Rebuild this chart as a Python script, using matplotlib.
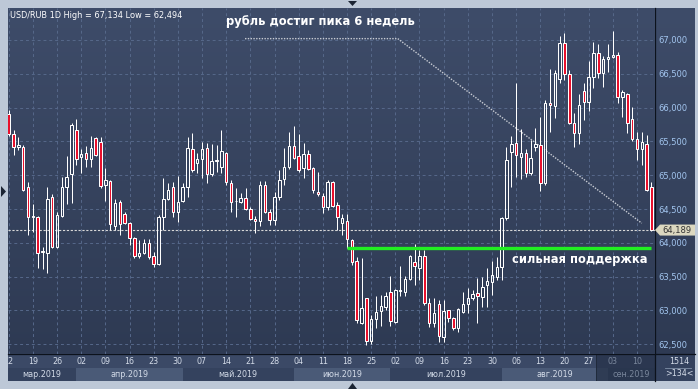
import numpy as np
import pandas as pd
import matplotlib
matplotlib.use('Agg')
import matplotlib.pyplot as plt
from matplotlib.colors import LinearSegmentedColormap
from matplotlib.patches import Polygon, Rectangle
from matplotlib.lines import Line2D

W, H = 698, 389

# trading days shown on the chart
dates = pd.bdate_range('2019-03-12', '2019-09-13')

# USD/RUB daily candles (rub * 1000)
opens = [65906, 65610, 65420, 65423, 64831, 64380, 64378, 63870, 63855, 64673,
         63944, 64402, 64831, 65018, 65669, 65265, 65324, 65235, 65546, 65487,
         64851, 64920, 64249, 64599, 64422, 64289, 64067, 63806, 63855, 63993,
         63806, 63687, 64388, 64654, 64831, 64452, 64619, 64821, 65383, 65186,
         65235, 65398, 65013, 65215, 65117, 65324, 64880, 64614, 64609, 64658,
         64505, 64348, 64323, 64851, 64451, 64333, 64683, 64949, 65117, 65432,
         65284, 65102, 65309, 65102, 64752, 64693, 64525, 64900, 64555, 64298,
         64323, 64042, 63731, 62809, 63179, 62553, 62869, 62997, 63056, 63273,
         62834, 63288, 63278, 63460, 63722, 63623, 63805, 63105, 62809, 63090,
         62602, 63007, 62883, 62745, 62982, 63090, 63179, 63253, 63204, 63376,
         63416, 63500, 63648, 64362, 65348, 65472, 65275, 65324, 65038, 65422,
         65447, 64890, 66063, 66024, 66418, 66951, 66492, 65777, 65629, 66245,
         66078, 66448, 66803, 66507, 66714, 66744, 66778, 66152, 66201, 65832,
         65536, 65383, 65462, 64821]
highs = [65965, 65669, 65560, 65450, 64905, 64575, 64397, 63944, 64821, 64718,
         64461, 64979, 65285, 65768, 65827, 65383, 65433, 65580, 65570, 65561,
         65102, 64930, 64644, 64634, 64461, 64313, 64092, 64042, 64052, 64052,
         63870, 64412, 64964, 64890, 64905, 64989, 64890, 65570, 65620, 65324,
         65496, 65472, 65462, 65447, 65669, 65348, 64929, 64806, 64732, 64806,
         64535, 64397, 64910, 64910, 64505, 64757, 65077, 65398, 65644, 65728,
         65610, 65472, 65373, 65126, 65053, 64732, 64929, 64910, 64604, 64427,
         64427, 64050, 63796, 63771, 63185, 62933, 63214, 63229, 63278, 63510,
         63312, 63657, 63510, 63820, 63983, 63894, 63894, 63179, 63179, 63155,
         63155, 63010, 62908, 63031, 63278, 63327, 63302, 63475, 63490, 63623,
         63731, 63796, 64387, 65422, 65580, 66359, 65679, 65383, 65521, 65694,
         65866, 66113, 66566, 66556, 67059, 67099, 66556, 65915, 66201, 66359,
         66694, 66975, 66941, 66763, 66941, 67134, 66827, 66260, 66210, 66004,
         65644, 65644, 65600, 64905]
lows = [65581, 65300, 65380, 64772, 64116, 64166, 63623, 63609, 63559, 63919,
        63919, 64388, 64575, 64585, 65152, 65028, 65127, 65127, 65285, 64807,
        64624, 64190, 64190, 64116, 64279, 63968, 63771, 63771, 63835, 63757,
        63648, 63673, 64190, 64634, 64388, 64313, 64609, 64683, 65053, 65038,
        64954, 64890, 64993, 65053, 65038, 64855, 64461, 64377, 64584, 64486,
        64338, 64141, 64249, 64436, 64269, 64264, 64634, 64856, 65097, 65245,
        65053, 64954, 65077, 64732, 64693, 64446, 64486, 64535, 64190, 64121,
        63919, 63672, 62819, 62800, 62494, 62500, 62736, 62770, 63007, 62770,
        62819, 63214, 63214, 63450, 63376, 63450, 63081, 62750, 62750, 62538,
        62538, 62834, 62711, 62686, 62967, 62967, 63155, 62819, 63056, 63056,
        63229, 63450, 63450, 64338, 64831, 64979, 64939, 64979, 65003, 65363,
        64772, 64856, 65644, 65841, 66359, 66408, 65758, 65422, 65462, 65817,
        65955, 66285, 66433, 66310, 66532, 66729, 66063, 65866, 65620, 65511,
        65225, 65151, 64760, 64180]
closes = [65610, 65423, 65440, 64782, 64388, 64395, 63845, 63885, 64644, 63944,
          64407, 64831, 64969, 65743, 65235, 65314, 65235, 65398, 65299, 64846,
          64930, 64279, 64594, 64279, 64289, 64067, 63806, 63855, 64003, 63796,
          63687, 64388, 64654, 64777, 64452, 64599, 64821, 65398, 65078, 65235,
          65383, 65013, 65210, 65225, 65353, 64900, 64609, 64620, 64658, 64505,
          64357, 64318, 64851, 64451, 64333, 64683, 64925, 65117, 65432, 65260,
          65072, 65309, 65087, 64776, 64722, 64525, 64900, 64545, 64387, 64362,
          64052, 63722, 62859, 63031, 62553, 62869, 62977, 63066, 63214, 62849,
          63302, 63302, 63460, 63805, 63662, 63805, 63105, 62809, 62957, 62627,
          62997, 62883, 62745, 63017, 63095, 63179, 63243, 63214, 63342, 63436,
          63524, 63648, 64362, 65225, 65457, 65294, 65324, 65038, 65250, 65457,
          64890, 66063, 66034, 66507, 66951, 66492, 65777, 65629, 66039, 66078,
          66448, 66803, 66507, 66714, 66753, 66778, 66152, 66236, 65767, 65531,
          65383, 65487, 64782, 64189]

month_names = {3: 'мар', 4: 'апр', 5: 'май', 6: 'июн', 7: 'июл', 8: 'авг', 9: 'сен'}
price_ticks = [62.5, 63.0, 63.5, 64.0, 64.5, 65.0, 65.5, 66.0, 66.5, 67.0]
support = 63.92
trend_x = [48.9, 80.5, 131.0]
trend_y = [67.02, 67.02, 64.29]
note_top = 'рубль достиг пика 6 недель'
note_support = 'сильная поддержка'

o = np.array(opens) / 1000
h = np.array(highs) / 1000
l = np.array(lows) / 1000
c = np.array(closes) / 1000
x = np.arange(len(dates))


def fx(px):
    return px / W


def fy(py):
    return 1 - py / H


def rub(v):
    return f'{v:.3f}'.replace('.', ',')


frame = '#bdc8d7'
red = '#e8102c'
grid_col = '#56688a'
bg = LinearSegmentedColormap.from_list('bg', ['#2e3a53', '#3e4c69'])
grad = np.linspace(0, 1, 256).reshape(-1, 1)

fig = plt.figure(figsize=(W / 100, H / 100), dpi=100, facecolor=frame)

# right price panel background
axr = fig.add_axes([fx(655), fy(354), (695 - 655) / W, (354 - 8) / H])
axr.imshow(grad, extent=[0, 1, 0, 1], cmap=bg, aspect='auto', origin='lower')
axr.axis('off')

ax = fig.add_axes([fx(8), fy(354), (655 - 8) / W, (354 - 8) / H])
ax.set_zorder(3)
ax.imshow(grad, extent=[0, 1, 0, 1], transform=ax.transAxes, cmap=bg,
          aspect='auto', origin='lower', zorder=0)
ax.set_xlim(-0.145, 133.73)
ax.set_ylim(62.356, 67.473)

tues = x[dates.weekday == 1]
ax.set_xticks(tues)
ax.set_yticks(price_ticks)
ax.set_yticklabels([rub(v) for v in price_ticks])
ax.yaxis.tick_right()
ax.tick_params(axis='x', length=0, labelbottom=False)
ax.tick_params(axis='y', length=0, pad=2.5, labelsize=6, labelcolor='#a3c6f0')
ax.grid(True, color=grid_col, ls=(0, (3, 3)), lw=0.7)
ax.set_axisbelow(True)
for s in ax.spines.values():
    s.set_visible(False)

# candles
lo_b = np.minimum(o, c)
hi_b = np.maximum(o, c)
up = c >= o
ax.vlines(x, l, lo_b, color='white', lw=0.72, zorder=3)
ax.vlines(x, hi_b, h, color='white', lw=0.72, zorder=3)
ax.bar(x[up], (hi_b - lo_b)[up], bottom=lo_b[up], width=0.5,
       facecolor='none', edgecolor='white', lw=0.72, zorder=4)
ax.bar(x[~up], (hi_b - lo_b)[~up], bottom=lo_b[~up], width=0.5,
       facecolor=red, edgecolor='white', lw=0.72, zorder=4)

# last price, support and trend
ax.axhline(c[-1], color='#d8d8d8', lw=0.8, ls=(0, (2, 1.5)), zorder=2)
ax.plot([69.9, 132.8], [support, support], color='#22ee22', lw=2.4,
        solid_capstyle='butt', zorder=5)
ax.plot(trend_x, trend_y, color='#c8ccd4', lw=1.0, ls=(0, (1, 1)), zorder=2)

fig.text(fx(226), fy(22), note_top, color='white', fontsize=8.3,
         fontweight='bold', ha='left', va='center')
fig.text(fx(512), fy(259), note_support, color='white', fontsize=8.3,
         fontweight='bold', ha='left', va='center', zorder=10)
fig.text(fx(10), fy(15), f'USD/RUB 1D High = {rub(h.max())} Low = {rub(l.min())}',
         color='white', fontsize=5.9, ha='left', va='center', zorder=10)

# last price tag
py = 8 + (67.473 - c[-1]) / (67.473 - 62.356) * 346
tag = [(655, py), (660, py - 5.5), (695, py - 5.5), (695, py + 5.5), (660, py + 5.5)]
fig.add_artist(Polygon([(fx(a), fy(b)) for a, b in tag], closed=True,
                       transform=fig.transFigure, fc='#dcd8c0', ec='none', zorder=5))
fig.text(fx(677), fy(py), rub(c[-1]), color='#333333', fontsize=6,
         ha='center', va='center', zorder=6)

# date panel
axd = fig.add_axes([fx(8), fy(381), (655 - 8) / W, (381 - 354) / H])
axd.set_xlim(ax.get_xlim())
axd.set_ylim(0, 1)
axd.axis('off')
axd.add_patch(Rectangle((-1, 0.48), 140, 0.52, fc='#3b4966', ec='none'))
months = dates.month
first = [0] + [i for i in range(1, len(dates)) if months[i] != months[i - 1]]
edges = first + [ax.get_xlim()[1]]
for k, i0 in enumerate(first):
    left = ax.get_xlim()[0] if k == 0 else i0
    right = edges[k + 1]
    col = '#34425e' if k % 2 == 0 else '#4a5a77'
    axd.add_patch(Rectangle((left, 0), right - left, 0.48, fc=col, ec='none'))
    grey = i0 >= 121.5
    axd.text((left + right) / 2, 0.25, f'{month_names[months[i0]]}.2019',
             ha='center', va='center', fontsize=5.8,
             color='#7a879c' if grey else '#d3dbe8')
axd.add_patch(Rectangle((121.5, 0), 20, 1, fc='#263249', ec='none', alpha=0.75))
axd.axvline(121.5, color='#1e2838', lw=0.6)
for i in tues:
    axd.text(i, 0.72, f'{dates[i].day:02d}', ha='center', va='center',
             fontsize=5.8, color='#7a879c' if i > 121.5 else '#d3dbe8',
             clip_on=True)

# corner cell
axc = fig.add_axes([fx(655), fy(381), (695 - 655) / W, (381 - 354) / H])
axc.set_xlim(0, 1)
axc.set_ylim(0, 1)
axc.axis('off')
axc.add_patch(Rectangle((0, 0), 1, 1, fc='#34425e', ec='none'))
axc.plot([0.25, 0.9], [0.5, 0.5], color='#8090a8', lw=0.6)
axc.text(0.6, 0.72, '1514', ha='center', va='center', fontsize=5.8, color='#d3dbe8')
axc.text(0.6, 0.26, '>134<', ha='center', va='center', fontsize=5.8, color='#d3dbe8')

# separators and frame markers
fig.add_artist(Line2D([fx(655), fx(655)], [fy(8), fy(381)], color='#0c121c', lw=0.9))
fig.add_artist(Line2D([fx(8), fx(695)], [fy(354), fy(354)], color='#0c121c', lw=0.9))
for tri in ([(1, 186), (6, 191.5), (1, 197)],
            [(348, 1), (357, 1), (352.5, 6)],
            [(348, 389), (357, 389), (352.5, 383)]):
    fig.add_artist(Polygon([(fx(a), fy(b)) for a, b in tri], closed=True,
                           transform=fig.transFigure, fc='#1b2433', ec='none'))

fig.savefig('out.png', dpi=100, facecolor=frame)
